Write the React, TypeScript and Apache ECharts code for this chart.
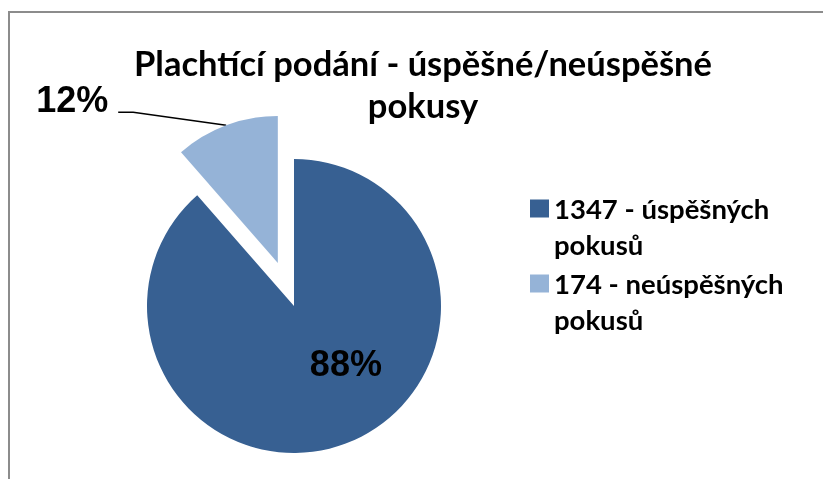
import React, { useEffect, useRef } from 'react';
import * as echarts from 'echarts';

const categories = ['1347 - úspěšných pokusů', '174 - neúspěšných pokusů'];
const values = [1347, 174];
const percentLabels = ['88%', '12%'];
const colors = ['#376092', '#95B3D7'];
const titleLines = ['Plachtící podání - úspěšné/neúspěšné', 'pokusy'];

export default function App() {
  const ref = useRef<HTMLDivElement>(null);
  useEffect(() => {
    const chart = echarts.init(ref.current!, undefined, { renderer: 'svg' });
    chart.setOption({
      animation: false,
      title: {
        text: titleLines.join('\n'),
        left: 423,
        top: 41,
        textAlign: 'center',
        padding: 0,
        textStyle: { fontFamily: 'Lato', fontWeight: 'bold', fontSize: 34.5, lineHeight: 42, color: '#000' },
      },
      legend: {
        orient: 'vertical',
        left: 530,
        top: 190,
        padding: 0,
        itemWidth: 19,
        itemHeight: 53,
        itemGap: 3,
        icon: 'path://M0,0H19V18H0ZM0,53L19,53L19,53Z',
        formatter: (name: string) => name.replace(' pokusů', '\npokusů'),
        textStyle: { fontFamily: 'Lato', fontWeight: 'bold', fontSize: 27.5, lineHeight: 36, color: '#000' },
        selectedMode: false,
      },
      graphic: [
        {
          type: 'rect',
          shape: { x: 9, y: 12, width: 900, height: 600 },
          style: { fill: 'none', stroke: '#8c8c8c', lineWidth: 2 },
          silent: true,
          z: -1,
        },
      ],
      series: [
        {
          type: 'pie',
          center: [294, 306],
          radius: 147,
          startAngle: 90,
          clockwise: true,
          selectedMode: 'single',
          selectedOffset: 46,
          avoidLabelOverlap: false,
          emphasis: { disabled: true },
          data: categories.map((name, i) => ({
            name,
            value: values[i],
            selected: i === 1,
            itemStyle: { color: colors[i] },
            select: { itemStyle: { color: colors[i], borderWidth: 0 } },
            label: i === 0 ? { position: 'inside' } : { position: 'outside', distanceToLabelLine: 10 },
          })),
          label: {
            formatter: (p: any) => percentLabels[p.dataIndex],
            fontFamily: 'Liberation Sans, Arial',
            fontWeight: 'bold',
            fontSize: 36,
            color: '#000',
          },
          labelLine: { length: 14, length2: 103, lineStyle: { color: '#000', width: 1.5 } },
          labelLayout: (p: any) => {
            if (p.dataIndex === 0) return { dx: 25, dy: -14 };
            const pts = p.labelLinePoints;
            if (!pts || pts.length < 3) return { dy: -13 };
            const end = pts[2];
            return { dy: -13, labelLinePoints: [pts[0], [end[0] + 15, end[1]], end] };
          },
        },
      ],
    });
    return () => chart.dispose();
  }, []);
  return <div ref={ref} style={{ position: 'fixed', left: 0, top: 0, width: 823, height: 479 }} />;
}
